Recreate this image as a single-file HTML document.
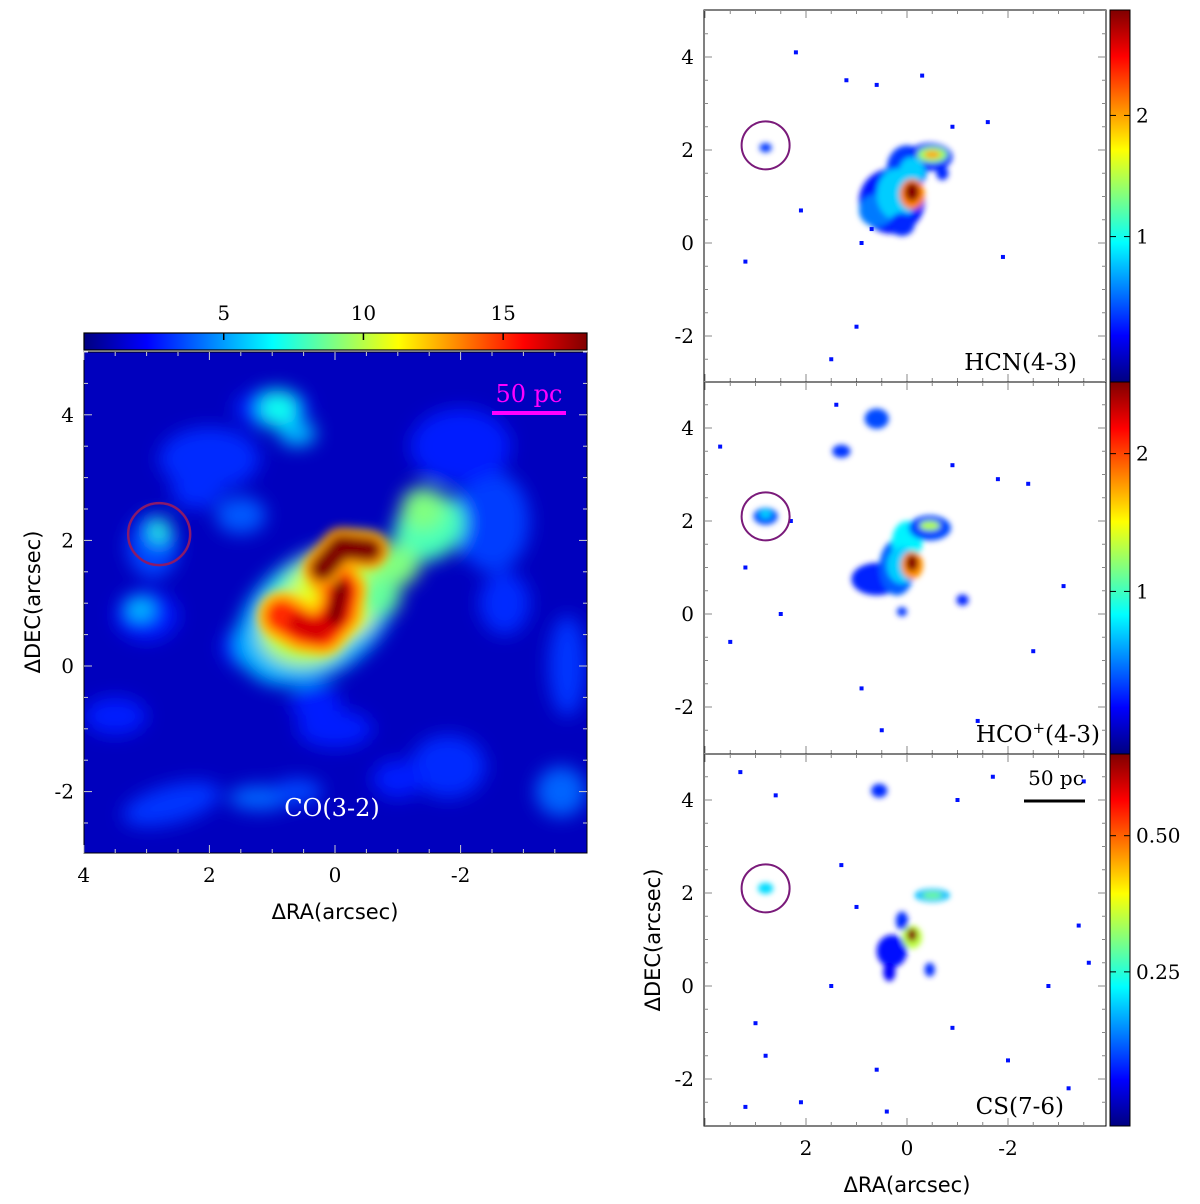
<!DOCTYPE html>
<html><head><meta charset="utf-8"><style>
body{margin:0;background:#fff;width:1200px;height:1204px;overflow:hidden}
svg{display:block}
text{font-family:"DejaVu Serif","Liberation Serif",serif;font-size:20px;fill:#000}
.lab{font-family:"DejaVu Sans","Liberation Sans",sans-serif;font-size:21px}
</style></head><body>
<svg id="fig" width="1200" height="1204" xmlns="http://www.w3.org/2000/svg">
<defs>
<linearGradient id="jetH" x1="0" x2="1" y1="0" y2="0"></linearGradient>
<linearGradient id="jetV" x1="0" x2="0" y1="1" y2="0"></linearGradient>
<filter id="blurL" x="-50%" y="-50%" width="200%" height="200%"><feGaussianBlur stdDeviation="9"/></filter>
<filter id="blurS" x="-50%" y="-50%" width="200%" height="200%"><feGaussianBlur stdDeviation="5"/></filter>
<filter id="blurR" x="-50%" y="-50%" width="200%" height="200%"><feGaussianBlur stdDeviation="3"/></filter>
<clipPath id="clipL"><rect x="84" y="352" width="503" height="501"/></clipPath>
<clipPath id="clipR1"><rect x="704" y="10" width="402" height="372"/></clipPath>
<clipPath id="clipR2"><rect x="704" y="382" width="402" height="372"/></clipPath>
<clipPath id="clipR3"><rect x="704" y="754" width="402" height="372"/></clipPath>
</defs>
</svg>
<script>
// ---- data ----
const coRange=[0,18];
const coTicks=[5,10,15];
const coBackground=1.1;
// CO(3-2) diffuse emission components: ra, dec, rx, ry, value, rotation
const coRA  =[ 2.0, 1.0, 0.9, 0.6,-2.5, 2.9, 3.0, 1.5, 0.0,-1.8,-3.7, 2.6, 1.2, 0.3,-2.0,-3.6, 2.2, 3.5, 0.6,-1.0,-2.7, 1.5, 0.3, 0.2,-0.3,-1.5,-1.4, 0.5, 0.0, 0.7,-0.9,-0.3, 0.2, 2.8, 3.1,-0.7];
const coDEC =[ 3.3, 4.1, 4.1, 3.7, 2.3, 1.9, 0.8, 2.4,-1.0,-1.6, 0.0,-2.2,-2.1,-0.6, 3.5,-2.0, 2.8,-0.8,-2.0,-1.8, 1.0, 0.3, 0.8, 1.0, 1.5, 2.2, 2.5, 0.5, 1.1, 0.8, 1.6, 1.7, 0.9, 2.15,0.9, 1.1];
const coRX  =[ 0.8, 0.6, 0.3, 0.3, 0.6, 0.4, 0.5, 0.4, 0.6, 0.6, 0.3, 0.8, 0.5, 0.4, 0.8, 0.4, 0.4, 0.5, 0.4, 0.4, 0.4, 0.3, 1.4, 1.05,0.65,0.6, 0.35,0.7, 0.75,0.4, 0.45,0.4, 0.3, 0.15,0.2, 0.35];
const coRY  =[ 0.5, 0.3, 0.3, 0.2, 0.8, 0.5, 0.4, 0.3, 0.3, 0.5, 0.8, 0.3, 0.2, 0.3, 0.6, 0.4, 0.3, 0.3, 0.2, 0.3, 0.5, 0.3, 0.95,0.75,0.5, 0.5, 0.35,0.5, 0.7, 0.3, 0.35,0.3, 0.3, 0.2, 0.15,0.3];
const coVAL =[ 3.0, 3.0, 7.0, 5.5, 3.3, 3.5, 2.8, 3.8, 2.8, 3.0, 3.2, 3.2, 4.0, 2.8, 2.8, 4.0, 3.0, 2.8, 3.5, 2.8, 3.0, 3.0, 5.5, 8.0, 8.0, 8.0, 9.0, 10.0,10.5,11.5,9.0, 10.0,11.5,7.5, 6.0, 8.5];
const coROT =[ 0,   0,   0,   0,   0,   0,   0,   0,   0,   0,   0,  -15, 0,   0,   0,   0,   0,   0,   0,   0,   0,   0,  -35, -35, -35, -35, -35, 0,  -20, 0,   0,   0,   0,   0,   0,   0];
// CO S-shaped ridge (polyline arcsec coordinates), value, width(arcsec)
const coRidgeRA =[[0.85,0.5,0.2,-0.05,-0.12,0.05],[0.85,0.5,0.2,-0.05,-0.12,0.05],[0.2,-0.1,-0.55],[0.2,-0.1,-0.55],[0.6,0.3,0.0,-0.1],[0.0,-0.1]];
const coRidgeDEC=[[0.8,0.6,0.55,0.85,1.2,1.45],[0.8,0.6,0.55,0.85,1.2,1.45],[1.55,1.9,1.85],[1.55,1.9,1.85],[0.68,0.55,0.75,1.15],[0.8,1.25]];
const coRidgeVAL=[12.5,15.0,13.0,18.0,16.5,18.0];
const coRidgeW  =[0.75,0.5,0.6,0.38,0.3,0.25];
// HCN(4-3)
const hcnRA =[ 0.3, 0.0,-0.45, 0.6, 0.2,-0.1,-0.5,-0.1,-0.5,-0.1,-0.7, 2.8, 0.1];
const hcnDEC=[ 0.9, 1.6, 1.85, 0.7, 1.05,1.55,1.9, 1.05,1.9, 1.1, 1.5, 2.05,0.4];
const hcnRX =[ 0.65,0.4, 0.45,0.35,0.4, 0.25,0.3, 0.25,0.16,0.14,0.12,0.12,0.25];
const hcnRY =[ 0.7, 0.5, 0.3, 0.35,0.55,0.3, 0.17,0.33,0.08,0.2, 0.15,0.1, 0.25];
const hcnVAL=[ 0.25,0.35,0.3, 0.55,0.8, 0.8, 1.4, 2.1, 2.0, 2.85,0.3, 0.35,0.3];
const hcnRange=[-0.2,2.87];const hcnTicks=[1,2];
const hcnSpeckRA =[0.6,1.2,2.2,-0.3,0.7,-1.6,1.0,1.5,-1.9,3.2,0.9,-0.9,2.1];
const hcnSpeckDEC=[3.4,3.5,4.1,3.6,0.3,2.6,-1.8,-2.5,-0.3,-0.4,0.0,2.5,0.7];
// HCO+(4-3)
const hcoRange=[-0.18,2.52];const hcoTicks=[1,2];
const hcoRA =[ 0.6, 0.2, 0.0,-0.45, 0.1,-0.45,-0.1,-0.1, 2.8, 2.8, 0.6, 1.3,-1.1, 0.1];
const hcoDEC=[ 0.75,1.0, 1.55,1.85,1.05,1.9, 1.05,1.1, 2.1, 2.15,4.2, 3.5, 0.3, 0.05];
const hcoRX =[ 0.5, 0.35,0.3, 0.42,0.3, 0.2, 0.22,0.12,0.24,0.12,0.24,0.18,0.12,0.1];
const hcoRY =[ 0.35,0.6, 0.45,0.27,0.4, 0.1, 0.3, 0.18,0.18,0.1, 0.22,0.14,0.12,0.1];
const hcoVAL=[ 0.25,0.4, 0.8, 0.35,0.7, 1.3, 1.8, 2.5, 0.35,0.7, 0.35,0.3, 0.25,0.3];
const hcoSpeckRA =[3.7,2.3,1.4,-0.9,-1.8,-2.4,3.2,0.9,-1.4,0.5,3.5,-2.5,-3.1,2.5];
const hcoSpeckDEC=[3.6,2.0,4.5,3.2,2.9,2.8,1.0,-1.6,-2.3,-2.5,-0.6,-0.8,0.6,0.0];
// CS(7-6)
const csRange=[-0.033,0.65];const csTicks=[0.25,0.5];
const csRA  =[ 0.3,-0.5,-0.5, 0.1,-0.1,-0.1, 0.35,-0.45,0.55, 2.8];
const csDEC =[ 0.75,1.95,1.95,1.4, 1.05,1.1, 0.3, 0.35,4.2, 2.1];
const csRX  =[ 0.3, 0.35,0.2, 0.12,0.2, 0.1, 0.12,0.1, 0.16,0.15];
const csRY  =[ 0.35,0.14,0.07,0.2, 0.25,0.14,0.2, 0.15,0.15,0.12];
const csVAL =[ 0.06,0.18,0.3, 0.08,0.35,0.65,0.05,0.08,0.08,0.2];
const csSpeckRA =[3.3,2.6,1.3,-1.7,-3.5,-3.4,1.5,0.6,-2.0,3.0,-0.9,-2.8,3.2,2.1,-3.2,1.0,-1.0,-3.6,2.8,0.4];
const csSpeckDEC=[4.6,4.1,2.6,4.5,4.4,1.3,0.0,-1.8,-1.6,-0.8,-0.9,0.0,-2.6,-2.5,-2.2,1.7,4.0,0.5,-1.5,-2.7];

const NS='http://www.w3.org/2000/svg';
const svg=document.getElementById('fig');
function el(tag,attrs,parent){const e=document.createElementNS(NS,tag);for(const k in attrs)e.setAttribute(k,attrs[k]);(parent||svg).appendChild(e);return e;}
function jet(t){t=Math.max(0,Math.min(1,t));const c=v=>Math.round(255*Math.max(0,Math.min(1,v)));
 return `rgb(${c(1.5-Math.abs(4*t-3))},${c(1.5-Math.abs(4*t-2))},${c(1.5-Math.abs(4*t-1))})`;}
['jetH','jetV'].forEach(id=>{const g=document.getElementById(id);for(let i=0;i<=16;i++)el('stop',{offset:i/16,'stop-color':jet(i/16)},g);});

// ---- left panel ----
const L={x0:84,x1:587,y0:352,y1:853,k:62.8,cx:335,cy:666};
const lx=ra=>L.cx-ra*L.k, ly=d=>L.cy-d*L.k;
const coNorm=v=>(v-coRange[0])/(coRange[1]-coRange[0]);
const gL=el('g',{'clip-path':'url(#clipL)'});


el('rect',{x:L.x0,y:L.y0,width:L.x1-L.x0,height:L.y1-L.y0,fill:jet(coNorm(coBackground))},gL);
const gLb=el('g',{filter:'url(#blurL)'},gL);
coRA.forEach((ra,i)=>{const e=el('ellipse',{cx:lx(ra),cy:ly(coDEC[i]),rx:coRX[i]*L.k,ry:coRY[i]*L.k,fill:jet(coNorm(coVAL[i])),transform:`rotate(${coROT[i]} ${lx(ra)} ${ly(coDEC[i])})`},gLb);
 
 });
const gLs=el('g',{filter:'url(#blurS)'},gL);
coRidgeRA.forEach((pts,i)=>{const d=pts.map((ra,j)=>(j?'L':'M')+lx(ra)+' '+ly(coRidgeDEC[i][j])).join(' ');
 const p=el('path',{d:d,fill:'none',stroke:jet(coNorm(coRidgeVAL[i])),'stroke-width':coRidgeW[i]*L.k,'stroke-linecap':'round','stroke-linejoin':'round'},gLs);
 
 });
el('rect',{x:L.x0,y:L.y0,width:L.x1-L.x0,height:L.y1-L.y0,fill:'none',stroke:'#000','stroke-width':1});
el('circle',{cx:lx(2.8),cy:ly(2.1),r:31,fill:'none',stroke:'#8a1a6a','stroke-width':2.5,});
for(let v=-3.5;v<=4;v+=0.5){const x=lx(v);const maj=Number.isInteger(v)&&v%2==0;
 el('line',{x1:x,x2:x,y1:L.y1,y2:L.y1-(maj?8:4),stroke:'#ccc'});el('line',{x1:x,x2:x,y1:L.y0,y2:L.y0+(maj?8:4),stroke:'#ccc'});}
for(let v=-2.5;v<=5;v+=0.5){const y=ly(v);const maj=Number.isInteger(v)&&v%2==0;
 el('line',{y1:y,y2:y,x1:L.x0,x2:L.x0+(maj?8:4),stroke:'#ccc'});el('line',{y1:y,y2:y,x1:L.x1,x2:L.x1-(maj?8:4),stroke:'#ccc'});}
const lxt=[4,2,0,-2], lyt=[4,2,0,-2];
lxt.forEach(v=>{const t=el('text',{x:lx(v),y:882,'text-anchor':'middle'});t.textContent=v;
 });
lyt.forEach(v=>{const t=el('text',{x:74,y:ly(v)+7,'text-anchor':'end'});t.textContent=v;
 });
let t=el('text',{x:335,y:919,'text-anchor':'middle',class:'lab',});t.textContent='ΔRA(arcsec)';
t=el('text',{x:0,y:0,'text-anchor':'middle',class:'lab',transform:'translate(40,602) rotate(-90)',});t.textContent='ΔDEC(arcsec)';
t=el('text',{x:332,y:816,'text-anchor':'middle',style:'fill:#fff;font-size:24px',});t.textContent='CO(3-2)';
t=el('text',{x:529,y:402,'text-anchor':'middle',style:'fill:#ff00ff;font-size:24px',});t.textContent='50 pc';
el('line',{x1:492,x2:566,y1:413,y2:413,stroke:'#ff00ff','stroke-width':4,});
el('rect',{x:84,y:333,width:503,height:17,fill:'url(#jetH)',stroke:'#000','stroke-width':1.2,});
const cbx=v=>84+503*coNorm(v);
coTicks.forEach(v=>{el('line',{x1:cbx(v),x2:cbx(v),y1:333,y2:340,stroke:'#000','stroke-width':1.5});
 const tt=el('text',{x:cbx(v),y:320,'text-anchor':'middle'});tt.textContent=v;
 });

// ---- right panels ----
const R={x0:704,x1:1106,k:50.5,ky:46.5,cx:907};
const rx=ra=>R.cx-ra*R.k;
function panel(name,top,cy,clip,RA,DEC,RX,RY,VAL,SRA,SDEC,range,ticks,label,lblx,showX){
 const ry=d=>cy-d*R.ky;const nrm=v=>(v-range[0])/(range[1]-range[0]);
 const g=el('g',{'clip-path':`url(#${clip})`});
 
 
 const gb=el('g',{filter:'url(#blurR)'},g);
 RA.forEach((ra,i)=>{const e=el('ellipse',{cx:rx(ra),cy:ry(DEC[i]),rx:RX[i]*R.k,ry:RY[i]*R.ky,fill:jet(nrm(VAL[i]))},gb);
  
  });
 SRA.forEach((ra,i)=>{const e=el('rect',{x:rx(ra)-2,y:ry(SDEC[i])-2,width:4,height:4,fill:'#0010ff'},g);
  
  });
 el('rect',{x:R.x0,y:top,width:R.x1-R.x0,height:372,fill:'none',stroke:'#000','stroke-width':1});
 el('circle',{cx:rx(2.8),cy:ry(2.1),r:24,fill:'none',stroke:'#7a1a7a','stroke-width':2,});
 for(let v=-3.5;v<=4;v+=0.5){const x=rx(v);const maj=Number.isInteger(v)&&v%2==0;
  el('line',{x1:x,x2:x,y1:top+372,y2:top+372-(maj?8:4),stroke:'#888'});el('line',{x1:x,x2:x,y1:top,y2:top+(maj?8:4),stroke:'#888'});}
 for(let v=-2.5;v<=5;v+=0.5){const y=ry(v);const maj=Number.isInteger(v)&&v%2==0;
  el('line',{y1:y,y2:y,x1:R.x0,x2:R.x0+(maj?8:4),stroke:'#888'});el('line',{y1:y,y2:y,x1:R.x1,x2:R.x1-(maj?8:4),stroke:'#888'});}
 [4,2,0,-2].forEach(v=>{const tt=el('text',{x:694,y:ry(v)+7,'text-anchor':'end'});tt.textContent=v;
  });
 if(showX)[2,0,-2].forEach(v=>{const tt=el('text',{x:rx(v),y:1155,'text-anchor':'middle'});tt.textContent=v;
  });
 const lt=el('text',{x:lblx,y:top+360,'text-anchor':'end',style:'font-size:23px'});lt.innerHTML=label;
 
 el('rect',{x:1110,y:top,width:20,height:372,fill:'url(#jetV)',stroke:'#000','stroke-width':1,});
 ticks.forEach(v=>{const y=top+372-372*nrm(v);el('line',{x1:1110,x2:1116,y1:y,y2:y,stroke:'#000'});el('line',{x1:1130,x2:1124,y1:y,y2:y,stroke:'#000'});
  const tt=el('text',{x:1136,y:y+7});tt.textContent=ticks[0]<1?v.toFixed(2):v;
  });
}
panel('hcn43',10,243,'clipR1',hcnRA,hcnDEC,hcnRX,hcnRY,hcnVAL,hcnSpeckRA,hcnSpeckDEC,hcnRange,hcnTicks,'HCN(4-3)',1077,false);
panel('hco43',382,614,'clipR2',hcoRA,hcoDEC,hcoRX,hcoRY,hcoVAL,hcoSpeckRA,hcoSpeckDEC,hcoRange,hcoTicks,'HCO<tspan baseline-shift="super" font-size="15">+</tspan>(4-3)',1100,false);
panel('cs76',754,986,'clipR3',csRA,csDEC,csRX,csRY,csVAL,csSpeckRA,csSpeckDEC,csRange,csTicks,'CS(7-6)',1064,true);
t=el('text',{x:1056,y:785,'text-anchor':'middle',});t.textContent='50 pc';
el('line',{x1:1024,x2:1085,y1:801,y2:801,stroke:'#000','stroke-width':3,});
t=el('text',{x:907,y:1192,'text-anchor':'middle',class:'lab',});t.textContent='ΔRA(arcsec)';
t=el('text',{x:0,y:0,'text-anchor':'middle',class:'lab',transform:'translate(660,940) rotate(-90)',});t.textContent='ΔDEC(arcsec)';
</script>
</body></html>
